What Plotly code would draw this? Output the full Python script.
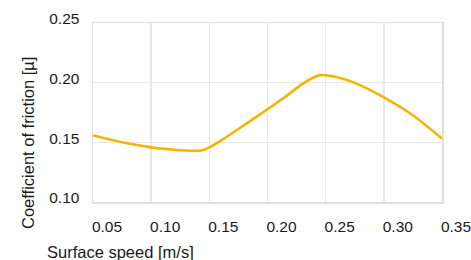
import plotly.graph_objects as go

speed = [0.05, 0.075, 0.10, 0.12, 0.135, 0.143, 0.15, 0.163, 0.175, 0.20,
         0.215, 0.23, 0.24, 0.245, 0.25, 0.26, 0.275, 0.30, 0.325, 0.35]
friction = [0.1557, 0.1500, 0.1458, 0.1438, 0.1430, 0.1432, 0.1458, 0.1534, 0.1612, 0.1777,
            0.1880, 0.1990, 0.2045, 0.2063, 0.2062, 0.2045, 0.1998, 0.1877, 0.1727, 0.1532]

x_ticks = [0.05, 0.10, 0.15, 0.20, 0.25, 0.30, 0.35]
y_ticks = [0.10, 0.15, 0.20, 0.25]

x_title = "Surface speed [m/s]"
y_title = "Coefficient of friction [µ]"

FONT = "Liberation Sans, Arial, sans-serif"

fig = go.Figure()
fig.add_trace(go.Scatter(
    x=speed, y=friction, mode="lines",
    line=dict(color="#F5B400", width=2.6, shape="spline", smoothing=0.6),
    hoverinfo="skip", showlegend=False, cliponaxis=False,
))

axis_common = dict(
    showgrid=True, gridcolor="#E8E8E8", gridwidth=1.5,
    showline=True, linecolor="#DEDEDE", linewidth=1.5, mirror=True,
    zeroline=False, ticks="", automargin=False, ticklabeloverflow="allow",
    tickfont=dict(family=FONT, size=15.5, color="#1a1a1a"),
)

fig.update_xaxes(
    range=[0.05, 0.35], tickvals=x_ticks,
    ticktext=[f"{v:.2f}" for v in x_ticks],
    ticklabelshift=14, ticklabelstandoff=10,
    **axis_common,
)
fig.update_yaxes(
    range=[0.10, 0.25], tickvals=y_ticks,
    ticktext=[f"{v:.2f}" for v in y_ticks],
    ticklabelshift=-4, ticklabelstandoff=9,
    **axis_common,
)

# plot area in page pixels: x 93..442, y 23..202
fig.add_annotation(
    text=x_title, xref="paper", yref="paper",
    x=(45 - 93) / 349, y=(202 - 252) / 179,
    xanchor="left", yanchor="middle", showarrow=False,
    font=dict(family=FONT, size=16.5, color="#1a1a1a"),
)
fig.add_annotation(
    text=y_title, xref="paper", yref="paper",
    x=(28 - 93) / 349, y=(202 - 143) / 179,
    xanchor="center", yanchor="middle", textangle=-90, showarrow=False,
    font=dict(family=FONT, size=16.5, color="#1a1a1a"),
)

fig.update_layout(
    width=471, height=260,
    margin=dict(l=93, r=29, t=23, b=58),
    paper_bgcolor="white", plot_bgcolor="white",
)

# remove the browser's default 8px body margin so the figure fills the window
fig.write_html("out.html",
               config={"displayModeBar": False, "staticPlot": True},
               post_script="document.body.style.margin='0';document.body.style.overflow='hidden';")
